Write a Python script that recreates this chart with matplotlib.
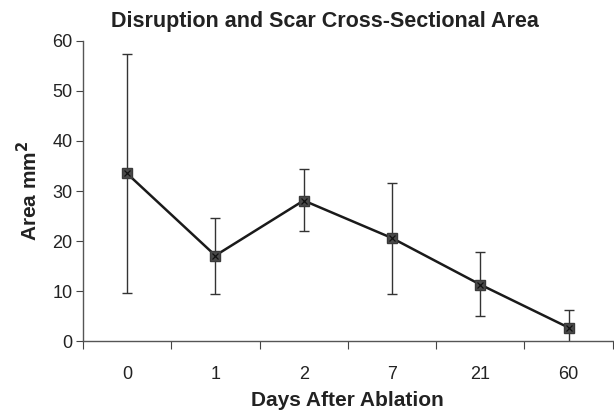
import matplotlib.pyplot as plt

plt.rcParams['font.family'] = ['Liberation Sans', 'DejaVu Sans']

# data
days = ["0", "1", "2", "7", "21", "60"]
area = [33.5, 17.1, 28.1, 20.6, 11.3, 2.7]
err_upper = [57.3, 24.7, 34.3, 31.6, 17.8, 6.2]
err_lower = [9.7, 9.5, 22.1, 9.5, 5.0, -0.7]

x = list(range(len(days)))
yerr = [[a - lo for a, lo in zip(area, err_lower)],
        [hi - a for a, hi in zip(area, err_upper)]]

fig = plt.figure(figsize=(6.14, 4.13), dpi=100)
ax = fig.add_axes([0.135, 0.174, 0.863, 0.727])

# error bars
ax.errorbar(x, area, yerr=yerr, fmt='none', ecolor='#333333',
            elinewidth=1.0, capsize=3.5, capthick=1.0, zorder=2)
# line
ax.plot(x, area, color='#1a1a1a', lw=1.8, zorder=3)
# markers: dark square with an x
ax.plot(x, area, ls='none', marker='s', ms=7.5, mfc='#4a4a4a',
        mec='#3a3a3a', zorder=4)
ax.plot(x, area, ls='none', marker='x', ms=5, mec='#111111', mew=0.9,
        zorder=5)

ax.set_xlim(-0.5, len(days) - 0.5)
ax.set_ylim(0, 60)
ax.set_yticks(range(0, 61, 10))

# category labels centered, tick marks at boundaries
ax.set_xticks([i - 0.5 for i in range(len(days) + 1)])
ax.set_xticklabels([])
ax.set_xticks(x, minor=True)
ax.set_xticklabels(days, minor=True, fontsize=13, color='#222222')
ax.tick_params(axis='x', which='major', length=6, color='#444444',
               direction='out')
ax.tick_params(axis='x', which='minor', length=0, pad=18)
ax.tick_params(axis='y', length=5, color='#444444', labelsize=13,
               labelcolor='#222222', pad=2.5)

for s in ['top', 'right']:
    ax.spines[s].set_visible(False)
for s in ['left', 'bottom']:
    ax.spines[s].set_color('#555555')
    ax.spines[s].set_linewidth(1.0)

ax.set_title("Disruption and Scar Cross-Sectional Area", fontsize=15.5,
             fontweight='bold', color='#222222', pad=10, x=0.456)
ax.set_xlabel("Days After Ablation", fontsize=15, fontweight='bold',
              color='#222222', labelpad=5.5)
ax.set_ylabel("Area mm$^\\mathbf{2}$", fontsize=15, fontweight='bold',
              color='#222222', labelpad=8)

fig.savefig("out.png", dpi=100)
